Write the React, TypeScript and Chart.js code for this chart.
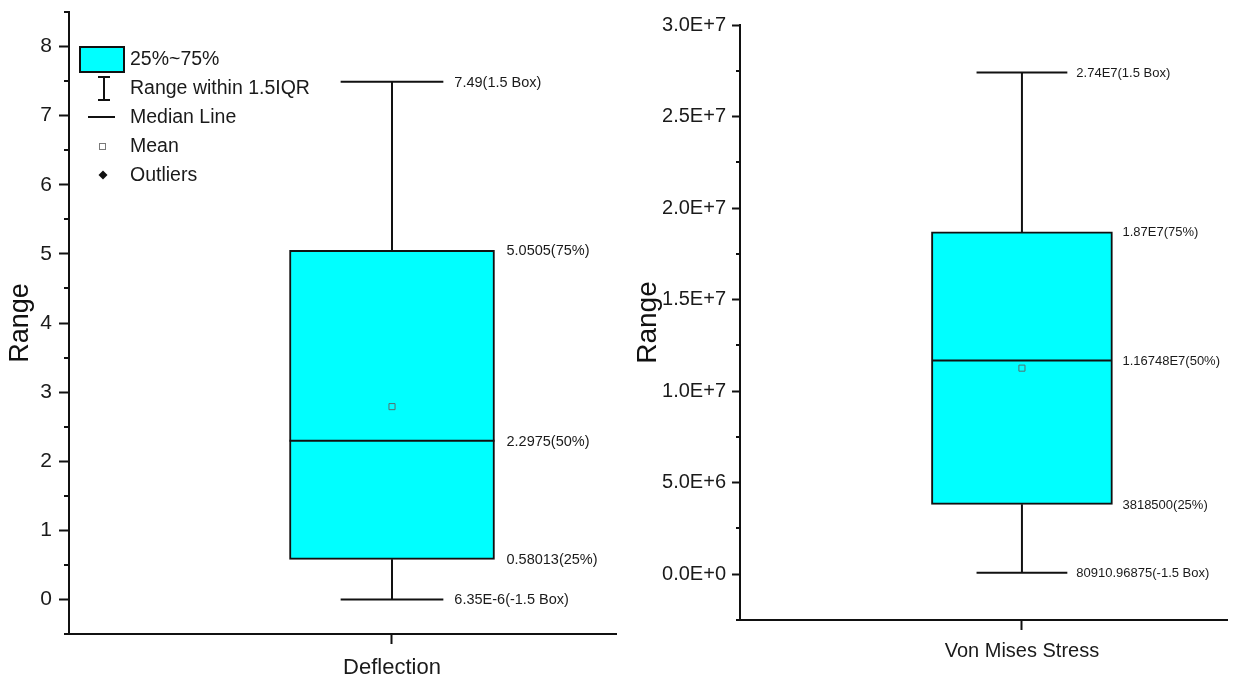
import React, { useEffect, useRef } from 'react';
import { Chart, registerables } from 'chart.js';

Chart.register(...registerables);

const FONT = '"Liberation Sans", Arial, Helvetica, sans-serif';
const INK = '#111111';
const TEXT = '#1a1a1a';
const CYAN = '#00FFFF';

// ---------- Data ----------
// order of the five box statistics: lower whisker, Q1, median, Q3, upper whisker
const deflectionCategory = ['Deflection'];
const deflectionValues = [6.35e-6, 0.58013, 2.2975, 5.0505, 7.49];
const deflectionMean = [2.79];
const deflectionValueLabels = ['6.35E-6(-1.5 Box)', '0.58013(25%)', '2.2975(50%)', '5.0505(75%)', '7.49(1.5 Box)'];
const deflectionTicks = [0, 1, 2, 3, 4, 5, 6, 7, 8];
const deflectionTickLabels = ['0', '1', '2', '3', '4', '5', '6', '7', '8'];
const deflectionMinorTicks = [-0.5, 0.5, 1.5, 2.5, 3.5, 4.5, 5.5, 6.5, 7.5, 8.5];

const stressCategory = ['Von Mises Stress'];
const stressValues = [80910.96875, 3818500, 11674800, 18700000, 27400000];
const stressMean = [11257000];
const stressValueLabels = ['80910.96875(-1.5 Box)', '3818500(25%)', '1.16748E7(50%)', '1.87E7(75%)', '2.74E7(1.5 Box)'];
const stressTicks = [0, 5e6, 1e7, 1.5e7, 2e7, 2.5e7, 3e7];
const stressTickLabels = ['0.0E+0', '5.0E+6', '1.0E+7', '1.5E+7', '2.0E+7', '2.5E+7', '3.0E+7'];
const stressMinorTicks = [-2.5e6, 2.5e6, 7.5e6, 1.25e7, 1.75e7, 2.25e7, 2.75e7];

const legendLabels = ['25%~75%', 'Range within 1.5IQR', 'Median Line', 'Mean', 'Outliers'];
const yTitle = 'Range';

// ---------- Panel settings ----------
type Panel = {
  category: string[];
  values: number[];
  mean: number[];
  valueLabels: string[];
  ticks: number[];
  tickLabels: string[];
  minorTicks: number[];
  yMin: number;
  yMax: number;
  xMax: number;
  canvasLeft: number;
  canvasWidth: number;
  padTop: number;
  padRight: number;
  yAxisWidth: number;
  xAxisHeight: number;
  barPx: number;
  boxHalf: number;
  capHalf: number;
  tickLen: number;
  minorLen: number;
  tickFont: number;
  tickPad: number;
  titleFont: number;
  titlePad: number;
  catFont: number;
  catPad: number;
  labelFont: number;
  boxGap: number;
  capGap: number;
  legend: boolean;
};

const panels: Panel[] = [
  {
    category: deflectionCategory,
    values: deflectionValues,
    mean: deflectionMean,
    valueLabels: deflectionValueLabels,
    ticks: deflectionTicks,
    tickLabels: deflectionTickLabels,
    minorTicks: deflectionMinorTicks,
    yMin: -0.5,
    yMax: 8.5,
    xMax: 1.6935,
    canvasLeft: 0,
    canvasWidth: 625,
    padTop: 12,
    padRight: 9,
    yAxisWidth: 69,
    xAxisHeight: 45,
    barPx: 205,
    boxHalf: 0.3174,
    capHalf: 0.159,
    tickLen: 10,
    minorLen: 5,
    tickFont: 21,
    tickPad: 7,
    titleFont: 27,
    titlePad: 4,
    catFont: 22,
    catPad: 11,
    labelFont: 14.5,
    boxGap: 12,
    capGap: 11,
    legend: true,
  },
  {
    category: stressCategory,
    values: stressValues,
    mean: stressMean,
    valueLabels: stressValueLabels,
    ticks: stressTicks,
    tickLabels: stressTickLabels,
    minorTicks: stressMinorTicks,
    yMin: -2.5e6,
    yMax: 3e7,
    xMax: 1.7298,
    canvasLeft: 625,
    canvasWidth: 608,
    padTop: 25,
    padRight: 0,
    yAxisWidth: 115,
    xAxisHeight: 59,
    barPx: 181,
    boxHalf: 0.3175,
    capHalf: 0.161,
    tickLen: 8,
    minorLen: 4,
    tickFont: 20,
    tickPad: 6,
    titleFont: 28,
    titlePad: 6,
    catFont: 20,
    catPad: 9,
    labelFont: 13,
    boxGap: 10,
    capGap: 9,
    legend: false,
  },
];

const HEIGHT = 679;

function makePlugins(p: Panel) {
  const valueLabelPlugin = {
    id: 'valueLabels',
    afterDatasetsDraw(chart: any) {
      const ctx = chart.ctx;
      const xs = chart.scales.x;
      const ys = chart.scales.y;
      const bar: any = chart.getDatasetMeta(0).data[0];
      const boxRight = bar.x + bar.width / 2;
      const capRight = xs.getPixelForValue(1 + p.capHalf);
      ctx.save();
      ctx.font = `${p.labelFont}px ${FONT}`;
      ctx.fillStyle = TEXT;
      ctx.textAlign = 'left';
      ctx.textBaseline = 'middle';
      p.valueLabels.forEach((txt, i) => {
        const isWhisker = i === 0 || i === p.valueLabels.length - 1;
        const x = isWhisker ? capRight + p.capGap : boxRight + p.boxGap;
        const y = ys.getPixelForValue(p.values[i]) + 1;
        ctx.fillText(txt, x, y);
      });
      ctx.restore();
    },
  };

  const minorTickPlugin = {
    id: 'minorTicks',
    afterDraw(chart: any) {
      const ctx = chart.ctx;
      const ys = chart.scales.y;
      const left = chart.chartArea.left;
      ctx.save();
      ctx.strokeStyle = INK;
      ctx.lineWidth = 2;
      p.minorTicks.forEach((v) => {
        const y = Math.round(ys.getPixelForValue(v));
        ctx.beginPath();
        ctx.moveTo(left, y);
        ctx.lineTo(left - p.minorLen, y);
        ctx.stroke();
      });
      ctx.restore();
    },
  };

  const legendPlugin = {
    id: 'boxLegend',
    afterDraw(chart: any) {
      if (!p.legend) return;
      const ctx = chart.ctx;
      const L = chart.chartArea.left;
      const T = chart.chartArea.top;
      const rows = [47, 76, 105, 134, 163];
      ctx.save();
      // box symbol
      ctx.fillStyle = CYAN;
      ctx.strokeStyle = INK;
      ctx.lineWidth = 2;
      ctx.fillRect(L + 11, T + 35, 44, 25);
      ctx.strokeRect(L + 11, T + 35, 44, 25);
      // whisker symbol
      ctx.beginPath();
      ctx.moveTo(L + 35, T + 65);
      ctx.lineTo(L + 35, T + 88);
      ctx.moveTo(L + 29, T + 65);
      ctx.lineTo(L + 41, T + 65);
      ctx.moveTo(L + 29, T + 88);
      ctx.lineTo(L + 41, T + 88);
      ctx.stroke();
      // median symbol
      ctx.beginPath();
      ctx.moveTo(L + 19, T + rows[2]);
      ctx.lineTo(L + 46, T + rows[2]);
      ctx.stroke();
      // mean symbol
      ctx.lineWidth = 1;
      ctx.strokeStyle = '#7a7a7a';
      ctx.strokeRect(L + 30.5, T + rows[3] - 2.5, 6, 6);
      // outlier symbol
      ctx.fillStyle = INK;
      ctx.beginPath();
      const cx = L + 34;
      const cy = T + rows[4];
      ctx.moveTo(cx, cy - 4.5);
      ctx.lineTo(cx + 4.5, cy);
      ctx.lineTo(cx, cy + 4.5);
      ctx.lineTo(cx - 4.5, cy);
      ctx.closePath();
      ctx.fill();
      // texts
      ctx.font = `19.5px ${FONT}`;
      ctx.fillStyle = TEXT;
      ctx.textAlign = 'left';
      ctx.textBaseline = 'middle';
      legendLabels.forEach((t, i) => ctx.fillText(t, L + 61, T + rows[i] + 1));
      ctx.restore();
    },
  };

  return [valueLabelPlugin, minorTickPlugin, legendPlugin];
}

function makeConfig(p: Panel): any {
  const [lo, q1, med, q3, hi] = p.values;
  const lineStyle = {
    type: 'line',
    borderColor: INK,
    borderWidth: 2,
    pointRadius: 0,
    fill: false,
    tension: 0,
    order: 1,
  };
  return {
    type: 'bar',
    data: {
      datasets: [
        {
          type: 'bar',
          data: [{ x: 1, y: [q1, q3] }],
          backgroundColor: CYAN,
          borderColor: INK,
          borderWidth: 2,
          borderSkipped: false,
          barThickness: p.barPx,
          order: 5,
        },
        {
          ...lineStyle,
          data: [
            { x: 1, y: q3 },
            { x: 1, y: hi },
            { x: 1 - p.capHalf, y: hi },
            { x: 1 + p.capHalf, y: hi },
          ],
        },
        {
          ...lineStyle,
          data: [
            { x: 1, y: q1 },
            { x: 1, y: lo },
            { x: 1 - p.capHalf, y: lo },
            { x: 1 + p.capHalf, y: lo },
          ],
        },
        {
          ...lineStyle,
          data: [
            { x: 1 - p.boxHalf, y: med },
            { x: 1 + p.boxHalf, y: med },
          ],
        },
        {
          type: 'line',
          showLine: false,
          data: p.mean.map((m) => ({ x: 1, y: m })),
          pointStyle: 'rect',
          pointRadius: 4.3,
          pointBorderWidth: 1,
          pointBorderColor: '#557070',
          pointBackgroundColor: 'rgba(0,0,0,0)',
          order: 0,
        },
      ],
    },
    options: {
      animation: false,
      responsive: false,
      maintainAspectRatio: false,
      events: [],
      layout: { padding: { top: p.padTop, right: p.padRight, bottom: 0, left: 0 } },
      plugins: { legend: { display: false }, tooltip: { enabled: false }, title: { display: false } },
      scales: {
        x: {
          type: 'linear',
          min: 0,
          max: p.xMax,
          offset: false,
          afterBuildTicks: (s: any) => {
            s.ticks = p.category.map((_, i) => ({ value: 1 + i }));
          },
          afterFit: (s: any) => {
            s.height = p.xAxisHeight;
          },
          ticks: {
            autoSkip: false,
            maxRotation: 0,
            callback: (_v: any, i: number) => p.category[i],
            font: { family: FONT, size: p.catFont },
            color: TEXT,
            padding: p.catPad,
          },
          grid: {
            offset: false,
            drawOnChartArea: false,
            drawTicks: true,
            tickLength: 10,
            tickWidth: 2,
            tickColor: INK,
          },
          border: { display: true, color: INK, width: 2 },
        },
        y: {
          type: 'linear',
          min: p.yMin,
          max: p.yMax,
          afterBuildTicks: (s: any) => {
            s.ticks = p.ticks.map((v) => ({ value: v }));
          },
          afterFit: (s: any) => {
            s.width = p.yAxisWidth;
          },
          ticks: {
            callback: (_v: any, i: number) => p.tickLabels[i],
            font: { family: FONT, size: p.tickFont, lineHeight: 0.4 },
            color: TEXT,
            padding: p.tickPad,
          },
          grid: {
            drawOnChartArea: false,
            drawTicks: true,
            tickLength: p.tickLen,
            tickWidth: 2,
            tickColor: INK,
          },
          border: { display: true, color: INK, width: 2 },
          title: {
            display: true,
            text: yTitle,
            font: { family: FONT, size: p.titleFont },
            color: INK,
            padding: { top: p.titlePad, bottom: 0 },
          },
        },
      },
    },
    plugins: makePlugins(p),
  };
}

function BoxPanel({ panel }: { panel: Panel }) {
  const ref = useRef<HTMLCanvasElement | null>(null);
  useEffect(() => {
    if (!ref.current) return;
    const chart = new Chart(ref.current, makeConfig(panel));
    return () => chart.destroy();
  }, [panel]);
  return (
    <canvas
      ref={ref}
      width={panel.canvasWidth}
      height={HEIGHT}
      style={{
        position: 'absolute',
        left: panel.canvasLeft,
        top: 0,
        width: panel.canvasWidth,
        height: HEIGHT,
        display: 'block',
      }}
    />
  );
}

export default function App() {
  return (
    <div
      style={{
        position: 'fixed',
        left: 0,
        top: 0,
        width: 1233,
        height: HEIGHT,
        background: '#ffffff',
        overflow: 'hidden',
      }}
    >
      {panels.map((p, i) => (
        <BoxPanel key={i} panel={p} />
      ))}
    </div>
  );
}
